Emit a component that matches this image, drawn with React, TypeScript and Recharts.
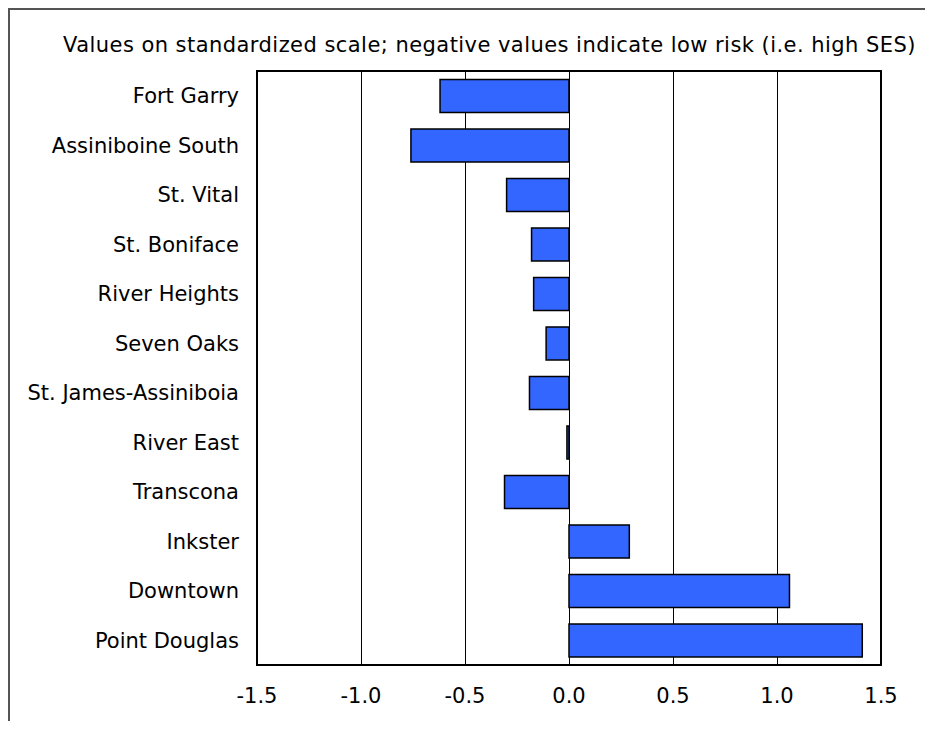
import React from "react";
import {
  BarChart,
  Bar,
  XAxis,
  YAxis,
  CartesianGrid,
  ReferenceArea,
} from "recharts";

// Community areas, top to bottom
const areas = [
  "Fort Garry",
  "Assiniboine South",
  "St. Vital",
  "St. Boniface",
  "River Heights",
  "Seven Oaks",
  "St. James-Assiniboia",
  "River East",
  "Transcona",
  "Inkster",
  "Downtown",
  "Point Douglas",
];

// standardized SES risk scores
const scores = [
  -0.62, -0.76, -0.3, -0.18, -0.17, -0.11, -0.19, -0.01, -0.31, 0.29, 1.06, 1.41,
];

const xTicks = [-1.5, -1.0, -0.5, 0.0, 0.5, 1.0, 1.5];

const title =
  "Values on standardized scale; negative values indicate low risk (i.e. high SES)";

const FONT = "'DejaVu Sans', Verdana, sans-serif";

const data = areas.map((name, i) => ({ name, value: scores[i] }));

const App = () => {
  return (
    <div
      style={{
        position: "relative",
        width: 919,
        height: 713,
        boxSizing: "border-box",
        borderTop: "2px solid #555",
        borderLeft: "2px solid #555",
        borderRight: "2px solid #555",
        fontFamily: FONT,
        background: "#fff",
      }}
    >
      <div
        style={{
          position: "absolute",
          top: 23,
          left: 53,
          whiteSpace: "nowrap",
          fontSize: 21,
          letterSpacing: 0.45,
          color: "#000",
        }}
      >
        {title}
      </div>
      <BarChart
        width={915}
        height={711}
        data={data}
        layout="vertical"
        margin={{ top: 61, right: 44, bottom: 26, left: 10 }}
        barCategoryGap="17%"
      >
        <CartesianGrid
          horizontal={false}
          stroke="#000"
          strokeWidth={1}
          shapeRendering="crispEdges"
        />
        <XAxis
          type="number"
          dataKey="value"
          domain={[-1.5, 1.5]}
          ticks={xTicks}
          tickFormatter={(v: number) => v.toFixed(1)}
          axisLine={{ stroke: "#000", strokeWidth: 2 }}
          tickLine={false}
          tickSize={0}
          tickMargin={23}
          height={30}
          tick={{ fill: "#000", fontSize: 21, fontFamily: FONT }}
        />
        <YAxis
          type="category"
          dataKey="name"
          width={237}
          axisLine={{ stroke: "#000", strokeWidth: 2 }}
          tickLine={false}
          tickSize={0}
          tickMargin={18}
          interval={0}
          tick={{ fill: "#000", fontSize: 21, fontFamily: FONT }}
        />
        <ReferenceArea
          x1={-1.5}
          x2={1.5}
          fill="none"
          stroke="#000"
          strokeWidth={2}
        />
        <Bar
          dataKey="value"
          fill="#3366FF"
          stroke="#000"
          strokeWidth={1.5}
          isAnimationActive={false}
        />
      </BarChart>
    </div>
  );
};

export default App;
